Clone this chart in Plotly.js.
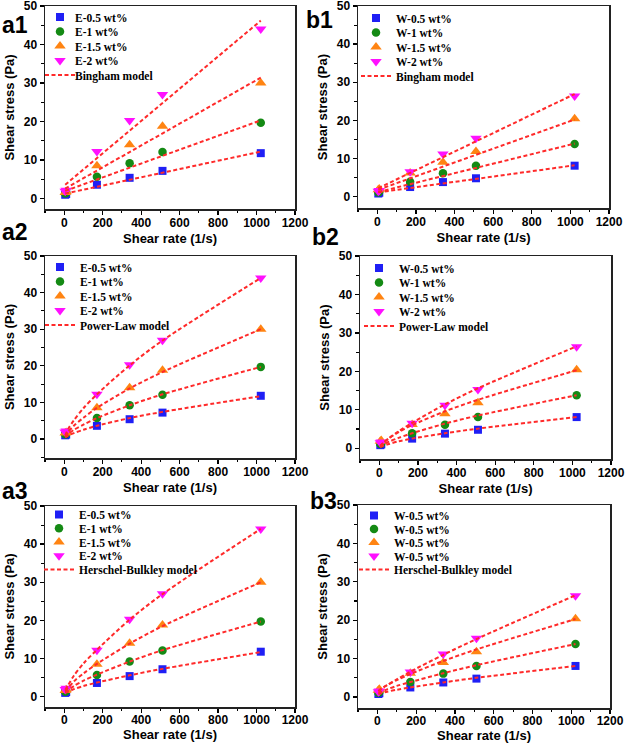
<!DOCTYPE html>
<html>
<head>
<meta charset="utf-8">
<script src="https://cdn.plot.ly/plotly-3.0.1.min.js"></script>
<style>
  html, body { margin: 0; padding: 0; background: #fff; }
  #plot { width: 625px; height: 743px; }
</style>
</head>
<body>
<div id="plot"></div>
<script>
// ---------- data ----------
const shearRate = [5.1, 10.2, 170, 340, 511, 1022];

const E05 = [1.0, 1.2, 3.6, 5.4, 7.2, 11.8];
const E1  = [1.3, 1.5, 5.7, 9.2, 12.1, 19.7];
const E15 = [1.6, 1.8, 8.5, 14.0, 18.8, 30.0];
const E2  = [1.9, 2.2, 12.2, 20.3, 27.0, 44.0];

const W05 = [0.8, 1.0, 2.5, 3.8, 4.8, 8.1];
const W1  = [1.1, 1.3, 3.9, 6.1, 8.1, 13.8];
const W15 = [1.8, 2.0, 6.2, 9.0, 11.8, 20.4];
const W2  = [1.4, 1.6, 6.5, 11.2, 15.3, 26.4];

// model curves
const binghamRate = [5.1, 1022];
const BH_E05 = [1.3, 12.2], BH_E1 = [2.0, 20.3], BH_E15 = [2.6, 31.4], BH_E2 = [3.6, 46.2];
const BH_W05 = [1.1, 8.2],  BH_W1 = [1.2, 13.9], BH_W15 = [1.8, 20.2], BH_W2 = [2.2, 26.9];

const modelRate = [5.1, 20, 50, 100, 170, 340, 511, 1022];
const PL_E2  = [1.0, 2.7, 5.1, 8.4, 12.2, 20.1, 26.9, 44.0];
const PL_E15 = [0.7, 1.9, 3.6, 5.8, 8.5, 13.8, 18.3, 30.0];
const PL_E1  = [0.5, 1.3, 2.5, 3.9, 5.7, 9.2, 12.2, 19.7];
const PL_E05 = [0.4, 0.9, 1.6, 2.5, 3.6, 5.7, 7.4, 11.7];
const PL_W2  = [0.4, 1.3, 2.6, 4.4, 6.6, 11.4, 15.6, 26.5];
const PL_W15 = [0.6, 1.4, 2.6, 4.2, 6.0, 9.6, 12.6, 20.3];
const PL_W1  = [0.3, 0.9, 1.7, 2.7, 3.9, 6.4, 8.5, 13.8];
const PL_W05 = [0.3, 0.6, 1.1, 1.8, 2.5, 3.9, 5.1, 8.1];

const HB_E2  = [1.8, 3.0, 5.5, 8.7, 12.3, 20.2, 26.9, 44.0];
const HB_E15 = [1.5, 2.3, 4.0, 6.1, 8.6, 13.9, 18.5, 30.0];
const HB_E1  = [1.2, 1.7, 2.8, 4.2, 5.8, 9.2, 12.2, 19.7];
const HB_E05 = [1.0, 1.3, 2.0, 2.8, 3.7, 5.6, 7.3, 11.7];
const HB_W2  = [1.5, 2.1, 3.1, 4.6, 6.6, 11.0, 15.1, 26.5];
const HB_W15 = [1.6, 2.2, 3.1, 4.4, 6.0, 9.4, 12.4, 20.3];
const HB_W1  = [1.1, 1.4, 2.0, 2.9, 3.9, 6.2, 8.3, 13.8];
const HB_W05 = [0.8, 1.0, 1.4, 1.9, 2.5, 3.8, 5.0, 8.1];

const namesE  = ['E-0.5 wt%', 'E-1 wt%', 'E-1.5 wt%', 'E-2 wt%'];
const namesW  = ['W-0.5 wt%', 'W-1 wt%', 'W-1.5 wt%', 'W-2 wt%'];
const namesW3 = ['W-0.5 wt%', 'W-0.5 wt%', 'W-0.5 wt%', 'W-0.5 wt%'];
const panelLabels = ['a1', 'b1', 'a2', 'b2', 'a3', 'b3'];
const modelNames = ['Bingham model', 'Bingham model', 'Power-Law model', 'Power-Law model',
                    'Herschel-Bulkley model', 'Herschel-Bulkley model'];
const xTitle = 'Shear rate (1/s)';
const yTitle = 'Shear stress (Pa)';

// ---------- styles ----------
const colors  = ['#1f1ff5', '#148a14', '#ff8412', '#ff10ff'];
const symbols = ['square', 'circle', 'triangle-up', 'triangle-down'];
const sizes   = [8, 8.5, 10, 10];
const lineColor = '#ff2a2a';

const panels = [
  { series: [E05, E1, E15, E2],     names: namesE,  mx: binghamRate, model: [BH_E05, BH_E1, BH_E15, BH_E2], shape: 'linear' },
  { series: [W05, W1, W15, W2],     names: namesW,  mx: binghamRate, model: [BH_W05, BH_W1, BH_W15, BH_W2], shape: 'linear' },
  { series: [E05, E1, E15, E2],     names: namesE,  mx: modelRate,   model: [PL_E05, PL_E1, PL_E15, PL_E2], shape: 'spline' },
  { series: [W05, W1, W15, W2],     names: namesW,  mx: modelRate,   model: [PL_W05, PL_W1, PL_W15, PL_W2], shape: 'spline' },
  { series: [E05, E1, E15, E2],     names: namesE,  mx: modelRate,   model: [HB_E05, HB_E1, HB_E15, HB_E2], shape: 'spline' },
  { series: [W05, W1, W15, W2],     names: namesW3, mx: modelRate,   model: [HB_W05, HB_W1, HB_W15, HB_W2], shape: 'spline' }
];

// plot areas in pixels [left, right, top, bottom]
const W = 625, H = 743;
const boxes = [
  [45, 295, 6, 209],
  [358, 609, 6, 208],
  [45, 295, 256, 458],
  [360, 611, 256, 459],
  [45, 295, 506, 707],
  [358, 610, 505, 708]
];
const yMins = [-2.7, -3.0, -5.2, -2.8, -2.7, -2.85];
const xStandoff = [5, 5, 5, 5, 1, 1];
const xLabelStandoff = [-2, -2, -2, -2, -3, -3];
// legend origins (px) and row gaps
const legendPos = [[40, 2.5], [356, 3.5], [40, 252.5], [359, 253.5], [39, 500], [354, 501]];
const legendGap = [14.5, 14.5, 14.5, 14.5, 13.75, 13.5];
const labelPos = [[0, 24.5], [304, 19.5], [0, 232], [310, 237], [0, 491], [308, 501]];

const tickFont = { family: 'Liberation Sans, Arial, sans-serif', size: 12, color: '#000', weight: 'bold' };
const titleFont = { family: 'Liberation Sans, Arial, sans-serif', size: 13, color: '#000', weight: 'bold' };
const legendFont = { family: 'Liberation Serif, Times New Roman, serif', size: 11.5, color: '#000', weight: 'bold' };

const data = [];
const layout = {
  width: W, height: H,
  margin: { l: 0, r: 0, t: 0, b: 0 },
  paper_bgcolor: '#fff', plot_bgcolor: '#fff',
  showlegend: true,
  annotations: []
};

panels.forEach((p, i) => {
  const k = i + 1;
  const xa = k === 1 ? 'x' : 'x' + k;
  const ya = k === 1 ? 'y' : 'y' + k;
  const lg = k === 1 ? 'legend' : 'legend' + k;
  p.series.forEach((s, j) => {
    data.push({
      type: 'scatter', mode: 'markers', x: shearRate, y: s, name: p.names[j],
      xaxis: xa, yaxis: ya, legend: lg,
      marker: { symbol: symbols[j], color: colors[j], size: sizes[j], line: { width: 0 } }
    });
  });
  p.model.forEach((m, j) => {
    data.push({
      type: 'scatter', mode: 'lines', x: p.mx, y: m, name: modelNames[i],
      xaxis: xa, yaxis: ya, legend: lg, showlegend: j === 0,
      line: { color: lineColor, width: 2, dash: '4px,2.5px', shape: p.shape, smoothing: 0.8 }
    });
  });

  const b = boxes[i];
  const xkey = k === 1 ? 'xaxis' : 'xaxis' + k;
  const ykey = k === 1 ? 'yaxis' : 'yaxis' + k;
  layout[xkey] = {
    domain: [b[0] / W, b[1] / W], anchor: ya,
    range: [-100, 1200], tick0: 0, dtick: 200,
    ticks: 'outside', ticklen: 4, tickwidth: 1.3, tickcolor: '#000',
    minor: { dtick: 100, ticks: 'outside', ticklen: 2.5, tickwidth: 1.1, tickcolor: '#000' },
    showline: true, linecolor: '#222', linewidth: 1.5, mirror: true,
    showgrid: false, zeroline: false,
    tickfont: tickFont, ticklabelstandoff: xLabelStandoff[i], ticklabeloverflow: 'allow',
    title: { text: xTitle, font: titleFont, standoff: xStandoff[i] }
  };
  layout[ykey] = {
    domain: [1 - b[3] / H, 1 - b[2] / H], anchor: xa,
    range: [yMins[i], 50], tick0: 0, dtick: 10,
    ticks: 'outside', ticklen: 4, tickwidth: 1.3, tickcolor: '#000',
    minor: { dtick: 5, ticks: 'outside', ticklen: 2.5, tickwidth: 1.1, tickcolor: '#000' },
    showline: true, linecolor: '#222', linewidth: 1.5, mirror: true,
    showgrid: false, zeroline: false,
    tickfont: tickFont, ticklabeloverflow: 'allow',
    title: { text: yTitle, font: titleFont, standoff: 6 }
  };
  layout[lg] = {
    x: legendPos[i][0] / W, y: 1 - legendPos[i][1] / H,
    xanchor: 'left', yanchor: 'top',
    bgcolor: 'rgba(0,0,0,0)', borderwidth: 0,
    font: legendFont, tracegroupgap: 0, traceorder: 'normal',
    itemwidth: 30
  };
  layout.annotations.push({
    text: panelLabels[i], xref: 'paper', yref: 'paper',
    x: labelPos[i][0] / W, y: 1 - labelPos[i][1] / H,
    xanchor: 'left', yanchor: 'middle', showarrow: false,
    font: { family: 'Liberation Sans, Arial, sans-serif', size: 23, color: '#000', weight: 'bold' }
  });
});

Plotly.newPlot('plot', data, layout, { displayModeBar: false, staticPlot: true }).then(gd => {
  // tighten legend row spacing to match the reference
  for (let i = 0; i < 6; i++) {
    const id = i === 0 ? 'legend' : 'legend' + (i + 1);
    const items = gd.querySelectorAll('g.' + id + ' g.traces');
    if (!items.length) continue;
    const m = /translate\(\s*([-\d.e]+)[ ,]+([-\d.e]+)\s*\)/.exec(items[0].getAttribute('transform') || '');
    const x0 = m ? parseFloat(m[1]) : 0;
    const y0 = m ? parseFloat(m[2]) : 14.5;
    items.forEach((it, r) => {
      it.setAttribute('transform', 'translate(' + x0 + ',' + (y0 + r * legendGap[i]) + ')');
      const t = it.querySelector('text.legendtext');
      if (t) t.setAttribute('x', 35);
    });
  }
});
</script>
</body>
</html>
